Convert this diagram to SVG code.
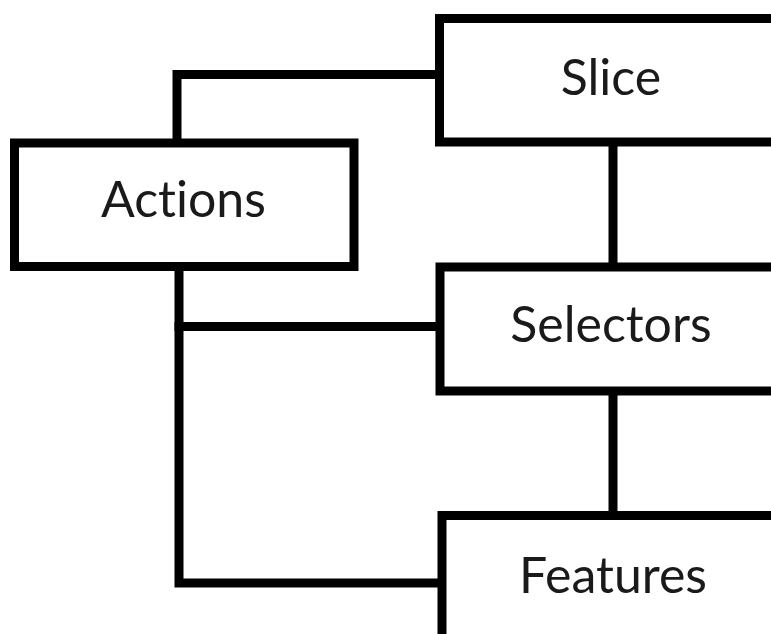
<svg xmlns="http://www.w3.org/2000/svg" width="771" height="634" viewBox="0 0 771 634">
<style>
.box{fill:#fff;stroke:#000;stroke-width:9}
.lbl{font-family:Lato,"Open Sans","Liberation Sans",sans-serif;font-size:50px;fill:#1a1a1a;text-anchor:middle;font-variant-ligatures:none}
.con{fill:none;stroke:#000;stroke-width:9;stroke-linejoin:miter;stroke-linecap:square}
</style>
<rect width="771" height="634" fill="#fff"/>
<g id="connectors">
<path class="con" d="M439.5 74.5 H177 V143"/>
<path class="con" d="M179 266.5 V583 H442"/>
<path class="con" d="M179 326.5 H440"/>
<path class="con" d="M613 142 V267"/>
<path class="con" d="M613 391 V515.5"/>
</g>
<g id="slice">
<rect class="box" x="439.5" y="18.5" width="337" height="123.5"/>
<text class="lbl" x="611" y="95">Slice</text>
</g>
<g id="actions">
<rect class="box" x="14.5" y="143" width="339.5" height="123.5"/>
<text class="lbl" x="183.5" y="217">Actions</text>
</g>
<g id="selectors">
<rect class="box" x="440" y="267" width="337" height="124"/>
<text class="lbl" x="611" y="342">Selectors</text>
</g>
<g id="features">
<rect class="box" x="442" y="515.5" width="337" height="130"/>
<text class="lbl" x="613" y="593">Features</text>
</g>
</svg>
